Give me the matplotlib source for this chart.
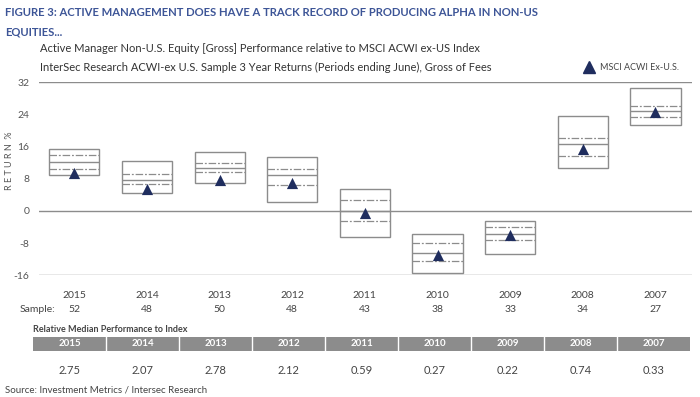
import matplotlib.pyplot as plt
import matplotlib.transforms as mtransforms
import numpy as np

plt.rcParams['font.family'] = ['Lato', 'DejaVu Sans']

annees = ['2015', '2014', '2013', '2012', '2011', '2010', '2009', '2008', '2007']
echantillon = [52, 48, 50, 48, 43, 38, 33, 34, 27]
# haut / quartile sup / mediane / quartile inf / bas (en %)
haut = [15.3, 12.4, 14.6, 13.4, 5.5, -5.8, -2.6, 23.6, 30.5]
q_sup = [13.8, 9.1, 11.9, 10.5, 2.7, -8.0, -4.0, 18.1, 26.1]
mediane = [12.1, 7.7, 10.6, 8.9, 0.0, -10.5, -5.7, 16.7, 24.8]
q_inf = [10.5, 6.6, 9.6, 6.4, -2.5, -12.4, -7.3, 13.7, 23.3]
bas = [8.9, 4.4, 6.9, 2.2, -6.5, -15.4, -10.7, 10.7, 21.4]
indice = [9.5, 5.4, 7.7, 6.9, -0.6, -10.9, -6.0, 15.5, 24.5]
perf_relative = ['2.75', '2.07', '2.78', '2.12', '0.59', '0.27', '0.22', '0.74', '0.33']
yticks = [-16, -8, 0, 8, 16, 24, 32]

GRIS = '#8c8c8c'
TEXTE = '#555555'
BLEU_TITRE = '#3d5597'
MARINE = '#1f2d5e'

fig = plt.figure(figsize=(7, 3.97), dpi=100)
ax = fig.add_axes([39 / 700, 1 - 275.3 / 397, 653 / 700, 193 / 397])

x = np.arange(len(annees))
largeur = 0.69

# boites
ax.bar(x, np.array(haut) - np.array(bas), bottom=bas, width=largeur,
       fill=False, edgecolor=GRIS, linewidth=1.0, zorder=2)
ax.hlines(mediane, x - largeur / 2, x + largeur / 2, colors=GRIS, linewidth=1.0, zorder=2)
tirets = (0, (6, 1.5, 1.5, 1.5))
ax.hlines(q_sup, x - largeur / 2, x + largeur / 2, colors=GRIS, linewidth=0.9,
          linestyles=[tirets], zorder=2)
ax.hlines(q_inf, x - largeur / 2, x + largeur / 2, colors=GRIS, linewidth=0.9,
          linestyles=[tirets], zorder=2)
ax.scatter(x, indice, marker='^', s=65, color=MARINE, zorder=3, linewidths=0)

for v in (32, 0, -16):
    ax.axhline(v, color=GRIS, linewidth=1.0, zorder=1)

ax.set_xlim(-0.486, 8.503)
ax.set_ylim(-16, 32)
ax.set_yticks(yticks)
ax.set_yticklabels([str(t) for t in yticks], fontsize=7.5, color=TEXTE)
ax.tick_params(axis='y', length=0, pad=7)
ax.set_xticks([])
for s in ax.spines.values():
    s.set_visible(False)
fig.text(10 / 700, 1 - 161 / 397, 'R E T U R N  %', rotation=90, ha='center',
         va='center', fontsize=6.5, color=TEXTE)

# annees et taille d'echantillon sous le graphique
trans = mtransforms.blended_transform_factory(ax.transData, fig.transFigure)
for i, (a, n) in enumerate(zip(annees, echantillon)):
    ax.text(i, 1 - 296 / 397, a, transform=trans, ha='center', va='center',
            fontsize=7.5, color='#444444')
    ax.text(i, 1 - 309 / 397, str(n), transform=trans, ha='center', va='center',
            fontsize=7.5, color='#444444')
fig.text(20 / 700, 1 - 309 / 397, 'Sample:', ha='left', va='center',
         fontsize=7.5, color='#444444')

# titres
fig.text(5 / 700, 1 - 12 / 397,
         'FIGURE 3: ACTIVE MANAGEMENT DOES HAVE A TRACK RECORD OF PRODUCING ALPHA IN NON-US',
         ha='left', va='center', fontsize=8.1, fontweight='bold', color=BLEU_TITRE)
fig.text(5 / 700, 1 - 32 / 397, 'EQUITIES...', ha='left', va='center',
         fontsize=8.1, fontweight='bold', color=BLEU_TITRE)
fig.text(40 / 700, 1 - 49 / 397,
         'Active Manager Non-U.S. Equity [Gross] Performance relative to MSCI ACWI ex-US Index',
         ha='left', va='center', fontsize=8, color='#333333')
fig.text(40 / 700, 1 - 67 / 397,
         'InterSec Research ACWI-ex U.S. Sample 3 Year Returns (Periods ending June), Gross of Fees',
         ha='left', va='center', fontsize=8, color='#333333')

# legende
fig.lines.append(plt.Line2D([589 / 700], [1 - 67 / 397], marker='^', markersize=8,
                            color=MARINE, linestyle='none', transform=fig.transFigure))
fig.text(600 / 700, 1 - 67 / 397, 'MSCI ACWI Ex-U.S.', ha='left', va='center',
         fontsize=6.5, color='#444444')

# tableau des performances relatives
fig.text(33 / 700, 1 - 329 / 397, 'Relative Median Performance to Index', ha='left',
         va='center', fontsize=6.5, fontweight='bold', color='#444444')
ax2 = fig.add_axes([33 / 700, 1 - 380 / 397, 657 / 700, 43 / 397])
ax2.set_xlim(0, len(annees))
ax2.set_ylim(43, 0)
ax2.axis('off')
ax2.add_patch(plt.Rectangle((0, 0), len(annees), 14, color=GRIS, linewidth=0))
for i in range(1, len(annees)):
    ax2.plot([i, i], [0, 14], color='white', linewidth=1)
for i, (a, v) in enumerate(zip(annees, perf_relative)):
    ax2.text(i + 0.5, 7, a, ha='center', va='center', fontsize=7,
             fontweight='bold', color='white')
    ax2.text(i + 0.5, 33, v, ha='center', va='center', fontsize=8, color='#444444')

fig.text(5 / 700, 1 - 390 / 397, 'Source: Investment Metrics / Intersec Research',
         ha='left', va='center', fontsize=7, color='#444444')

plt.savefig('out.png', dpi=100)
